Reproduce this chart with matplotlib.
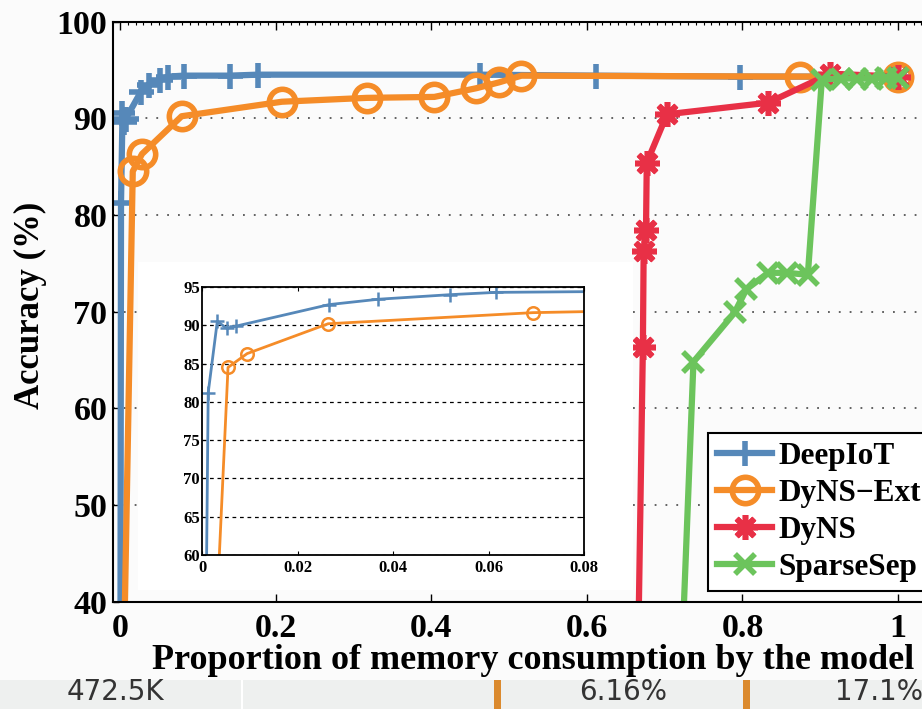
import matplotlib
matplotlib.use("Agg")
import matplotlib.pyplot as plt
from matplotlib.patches import Rectangle
from matplotlib.ticker import MultipleLocator

# accuracy vs. proportion of memory used, per compression method
deepiot_x = [0.0005, 0.0013, 0.0032, 0.0052, 0.0072, 0.0266, 0.0369, 0.052, 0.0616,
             0.082, 0.141, 0.177, 0.463, 0.612, 0.797, 1.0]
deepiot_y = [30, 81.2, 90.5, 89.6, 89.9, 92.7, 93.4, 94.0, 94.3,
             94.4, 94.4, 94.5, 94.5, 94.4, 94.3, 94.3]

ext_x = [0.005, 0.0164, 0.0283, 0.0792, 0.208, 0.317, 0.404, 0.458, 0.487, 0.516, 0.874, 1.0]
ext_y = [34, 84.5, 86.3, 90.2, 91.7, 92.1, 92.2, 93.1, 93.7, 94.4, 94.3, 94.3]

dyns_x = [0.665, 0.672, 0.673, 0.676, 0.677, 0.703, 0.833, 0.913, 1.0]
dyns_y = [30, 66.3, 76.3, 78.4, 85.4, 90.4, 91.6, 94.6, 94.3]

sep_x = [0.72, 0.737, 0.79, 0.805, 0.833, 0.857, 0.884, 0.902, 0.927, 0.947, 0.966, 0.984, 1.0]
sep_y = [30, 64.8, 69.9, 72.3, 74.0, 74.0, 73.8, 94.0, 94.1, 94.1, 94.1, 94.2, 94.2]

# zoomed-in view of the low-memory region
inset_deepiot_x = deepiot_x[:10]
inset_deepiot_y = deepiot_y[:10]
inset_ext_x = [0.0017, 0.00545, 0.00944, 0.0264, 0.0693, 0.106]
inset_ext_y = [34, 84.5, 86.3, 90.2, 91.65, 92.1]

labels = ["DeepIoT", "DyNS\u2212Ext", "DyNS", "SparseSep"]
colors = ["#5688b9", "#f58c28", "#e83046", "#6cc45c"]

# table row underneath
row_texts = ["472.5K", "6.16%", "17.1%"]

W, H = 922, 709
serif = "Liberation Serif"

fig = plt.figure(figsize=(W / 100, H / 100), dpi=100)
fig.patch.set_facecolor("#fbfbfb")


def fbox(x0, y0, x1, y1):
    # pixel box (top-left origin) -> figure fraction rect
    return [x0 / W, 1 - y1 / H, (x1 - x0) / W, (y1 - y0) / H]


AX_L, AX_T, AX_R, AX_B = 113, 21.5, 937, 601.5
ax = fig.add_axes(fbox(AX_L, AX_T, AX_R, AX_B))
ax.set_facecolor("none")
ax.set_xlim(-0.009, 1.05)
ax.set_ylim(40, 100)

ax.plot(deepiot_x, deepiot_y, color=colors[0], lw=4.5, marker="+", ms=18, mew=4,
        label=labels[0])
ax.plot(ext_x, ext_y, color=colors[1], lw=4.5, marker="o", ms=19, mew=4, mfc="none",
        label=labels[1])
ax.plot(dyns_x, dyns_y, color=colors[2], lw=4.5, marker=(8, 2, 0), ms=18, mew=4,
        label=labels[2])
ax.plot(sep_x, sep_y, color=colors[3], lw=4.5, marker="x", ms=15, mew=4,
        label=labels[3])

ax.set_xticks([0, 0.2, 0.4, 0.6, 0.8, 1.0])
ax.set_xticklabels(["0", "0.2", "0.4", "0.6", "0.8", "1"])
ax.set_yticks([40, 50, 60, 70, 80, 90, 100])
ax.xaxis.set_minor_locator(MultipleLocator(0.01))
ax.tick_params(axis="x", which="major", direction="in", top=True, length=6, width=1, pad=8)
ax.tick_params(axis="x", which="minor", direction="in", top=True, bottom=False, length=2, width=0.8)
ax.tick_params(axis="y", direction="in", length=4, width=1, pad=4)
for lab in ax.get_xticklabels() + ax.get_yticklabels():
    lab.set_fontfamily(serif)
    lab.set_fontweight("bold")
    lab.set_fontsize(24.5)
for s in ax.spines.values():
    s.set_linewidth(1.5)
ax.grid(axis="y", linestyle=(0, (1, 5)), color="#555555", lw=1.3)

ax.set_xlabel("Proportion of memory consumption by the model", fontfamily=serif,
              fontweight="bold", fontsize=26)
ax.xaxis.set_label_coords((533 - AX_L) / (AX_R - AX_L), -(644 - AX_B) / (AX_B - AX_T))
ax.set_ylabel("Accuracy (%)", fontfamily=serif, fontweight="bold", fontsize=25)
ax.yaxis.set_label_coords(-(AX_L - 47) / (AX_R - AX_L), (AX_B - 305) / (AX_B - AX_T))

leg = ax.legend(loc="upper left", bbox_to_anchor=(708 / W, 1 - 433 / H),
                bbox_transform=fig.transFigure, borderaxespad=0,
                prop={"family": serif, "weight": "bold", "size": 22.5},
                handlelength=1.75, handletextpad=0.2, labelspacing=0.25,
                borderpad=0.3, fancybox=False, framealpha=1, edgecolor="black")
leg.get_frame().set_linewidth(1.5)

# white backing for the inset
fig.add_artist(Rectangle((138 / W, 1 - 590 / H), (633 - 138) / W, (590 - 262) / H,
                         transform=fig.transFigure, facecolor="white", edgecolor="none",
                         zorder=1))

ins = fig.add_axes(fbox(202, 287, 584, 555))
ins.set_zorder(2)
ins.set_facecolor("white")
ins.set_xlim(0, 0.08)
ins.set_ylim(60, 95)
ins.plot(inset_deepiot_x, inset_deepiot_y, color=colors[0], lw=2, marker="+", ms=10, mew=1.8)
ins.plot(inset_ext_x, inset_ext_y, color=colors[1], lw=2, marker="o", ms=9, mew=1.8,
         mfc="none")
ins.set_xticks([0, 0.02, 0.04, 0.06, 0.08])
ins.set_xticklabels(["0", "0.02", "0.04", "0.06", "0.08"])
ins.set_yticks(range(60, 96, 5))
ins.tick_params(direction="in", top=True, right=True, length=3, width=0.8, pad=1.5)
ins.tick_params(axis="x", pad=3.5)
for lab in ins.get_xticklabels() + ins.get_yticklabels():
    lab.set_fontfamily(serif)
    lab.set_fontweight("bold")
    lab.set_fontsize(12)
for s in ins.spines.values():
    s.set_linewidth(1.3)
ins.grid(axis="y", linestyle=(0, (3, 3)), color="black", lw=0.9)
ins.set_axisbelow(True)

# table strip at the bottom
fig.add_artist(Rectangle((0, 0), 1, (H - 680) / H, transform=fig.transFigure,
                         facecolor="#eef0ef", edgecolor="none", zorder=3))
fig.add_artist(Rectangle((241 / W, 0), 2 / W, (H - 680) / H, transform=fig.transFigure,
                         facecolor="white", edgecolor="none", zorder=4))
for bx in (494, 743):
    fig.add_artist(Rectangle((bx / W, 0), 7 / W, (H - 680) / H, transform=fig.transFigure,
                             facecolor="#db8a2e", edgecolor="none", zorder=4))
fig.text(115 / W, 1 - 692 / H, row_texts[0], ha="center", va="center",
         fontfamily="DejaVu Sans", fontsize=20, color="#333333", zorder=5)
fig.text(623 / W, 1 - 692 / H, row_texts[1], ha="center", va="center",
         fontfamily="DejaVu Sans", fontsize=20, color="#333333", zorder=5)
fig.text(835 / W, 1 - 692 / H, row_texts[2], ha="left", va="center",
         fontfamily="DejaVu Sans", fontsize=20, color="#333333", zorder=5)

fig.savefig("out.png", dpi=100, facecolor=fig.get_facecolor())
